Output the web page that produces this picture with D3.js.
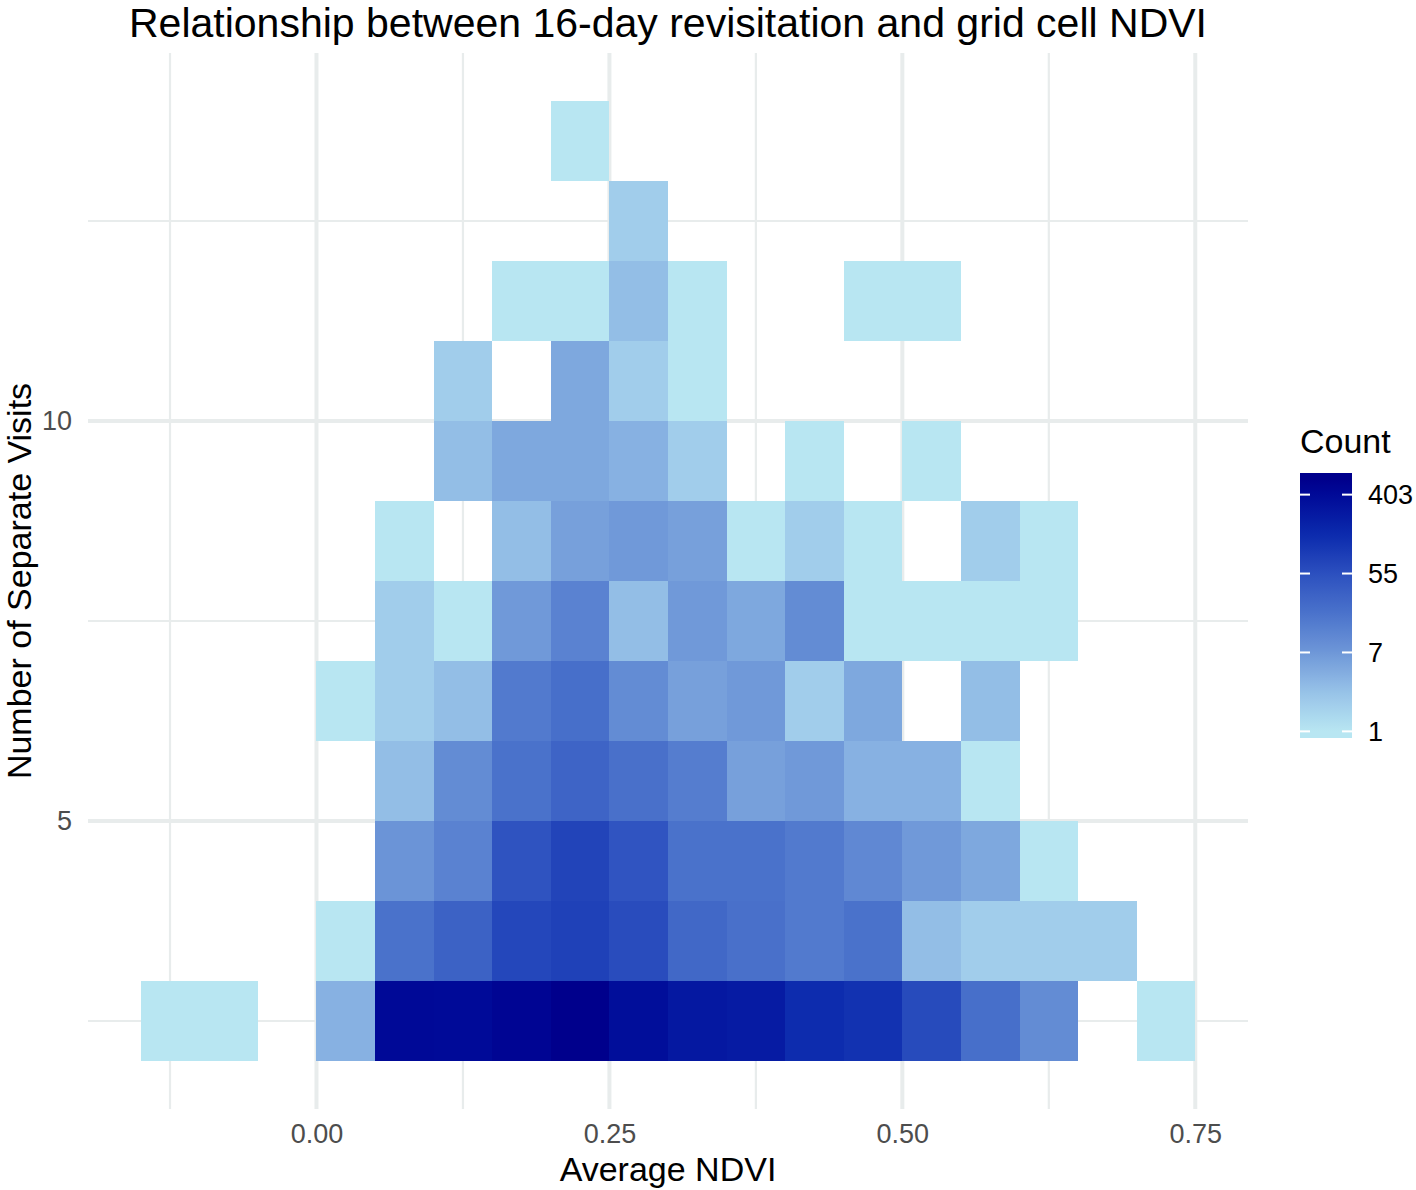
<!DOCTYPE html>
<html>
<head>
<meta charset="utf-8">
<script src="https://cdn.jsdelivr.net/npm/d3@7"></script>
<style>
  body { margin: 0; background: #fff; }
  text { font-family: "Liberation Sans", Arial, Helvetica, sans-serif; }
</style>
</head>
<body>
<div id="chart"></div>
<script>
// lower edges of the NDVI bins, bin width 0.05
const ndviBins = [-0.15,-0.10,-0.05,0.00,0.05,0.10,0.15,0.20,0.25,0.30,0.35,0.40,0.45,0.50,0.55,0.60,0.65,0.70];
const ndviWidth = 0.05;
// lower edges of the visit bins, bin width 1
const visitBins = [2,3,4,5,6,7,8,9,10,11,12,13];
const visitWidth = 1;

// counts, one row per visit bin, one value per NDVI bin (0 = no cell)
const visits2  = [1,1,0,4,420,400,480,590,360,260,240,140,120,63,22,10,0,1];
const visits3  = [0,0,0,1,20,32,70,80,60,27,21,16,20,3,2,2,2,0];
const visits4  = [0,0,0,0,8,13,50,75,48,20,20,16,11,7,5,1,0,0];
const visits5  = [0,0,0,0,3,10,20,30,21,15,6,7,4,4,1,0,0,0];
const visits6  = [0,0,0,1,2,3,16,22,10,6,7,2,5,0,3,0,0,0];
const visits7  = [0,0,0,0,2,1,7,13,3,7,5,10,1,1,1,1,0,0];
const visits8  = [0,0,0,0,1,0,3,6,7,6,1,2,1,0,2,1,0,0];
const visits9  = [0,0,0,0,0,3,5,5,4,2,0,1,0,1,0,0,0,0];
const visits10 = [0,0,0,0,0,2,0,5,2,1,0,0,0,0,0,0,0,0];
const visits11 = [0,0,0,0,0,0,1,1,3,1,0,0,1,1,0,0,0,0];
const visits12 = [0,0,0,0,0,0,0,0,2,0,0,0,0,0,0,0,0,0];
const visits13 = [0,0,0,0,0,0,0,1,0,0,0,0,0,0,0,0,0,0];

const xMajor = [0, 0.25, 0.50, 0.75];
const xMinor = [-0.125, 0.125, 0.375, 0.625];
const yMajor = [5, 10];
const yMinor = [2.5, 7.5, 12.5];
const legendBreaks = [1, 7.389, 54.6, 403.4];

// fill ramp, sampled along log(count) = 0,1,...,6 and the maximum
const palette = ["#b8e6f2","#97c2e8","#6e97d8","#4a72cb","#2c50bf","#0b2aad","#000a98","#00008c"];

const W = 1416, H = 1190;
const panel = { left: 88, right: 1248, top: 53, bottom: 1109 };
const gridColor = "#e8ecec";

function expand(lo, hi, m = 0.05) {
  let d = (hi - lo) * m;
  return [lo - d, hi + d];
}

const svg = d3.select("#chart").append("svg")
  .attr("width", W).attr("height", H);

const rows = [visits2,visits3,visits4,visits5,visits6,visits7,visits8,visits9,visits10,visits11,visits12,visits13];
const cells = [];
rows.forEach((r, j) => r.forEach((c, i) => {
  if (c > 0) cells.push({ x: ndviBins[i], y: visitBins[j], n: c });
}));

const x = d3.scaleLinear()
  .domain(expand(ndviBins[0], ndviBins[ndviBins.length-1] + ndviWidth))
  .range([panel.left, panel.right]);
const y = d3.scaleLinear()
  .domain(expand(visitBins[0], visitBins[visitBins.length-1] + visitWidth))
  .range([panel.bottom, panel.top]);

const maxN = d3.max(cells, d => d.n);
const ramp = d3.scaleLinear()
  .domain(d3.range(7).concat([Math.log(maxN)]))
  .range(palette).clamp(true);
const color = n => ramp(Math.log(n));

// grid
const grid = svg.append("g").attr("class", "grid").attr("stroke", gridColor);
[[xMinor, 2.2], [xMajor, 4]].forEach(([v, w]) => {
  grid.selectAll(null).data(v).enter().append("line")
    .attr("x1", d => x(d)).attr("x2", d => x(d))
    .attr("y1", panel.top).attr("y2", panel.bottom)
    .attr("stroke-width", w);
});
[[yMinor, 2.2], [yMajor, 4]].forEach(([v, w]) => {
  grid.selectAll(null).data(v).enter().append("line")
    .attr("y1", d => y(d)).attr("y2", d => y(d))
    .attr("x1", panel.left).attr("x2", panel.right)
    .attr("stroke-width", w);
});

// tiles
svg.append("g").attr("class", "tiles")
  .selectAll("rect").data(cells).enter().append("rect")
  .attr("x", d => x(d.x))
  .attr("y", d => y(d.y + visitWidth))
  .attr("width", d => x(d.x + ndviWidth) - x(d.x))
  .attr("height", d => y(d.y) - y(d.y + visitWidth))
  .attr("fill", d => color(d.n))
  .attr("shape-rendering", "crispEdges");

// axes
const xAxis = svg.append("g")
  .attr("transform", "translate(0," + panel.bottom + ")")
  .call(d3.axisBottom(x).tickValues(xMajor).tickSize(0).tickPadding(15).tickFormat(d3.format(".2f")));
const yAxis = svg.append("g")
  .attr("transform", "translate(" + panel.left + ",0)")
  .call(d3.axisLeft(y).tickValues(yMajor).tickSize(0).tickPadding(16).tickFormat(d3.format("d")));
[xAxis, yAxis].forEach(a => {
  a.select(".domain").remove();
  a.selectAll("text").attr("font-size", 27).attr("fill", "#4d4d4d")
    .attr("font-family", null);
});

// titles
svg.append("text")
  .attr("x", (panel.left + panel.right) / 2).attr("y", 37)
  .attr("text-anchor", "middle").attr("font-size", 41).attr("fill", "#000")
  .text("Relationship between 16-day revisitation and grid cell NDVI");
svg.append("text")
  .attr("x", (panel.left + panel.right) / 2).attr("y", 1181)
  .attr("text-anchor", "middle").attr("font-size", 34).attr("fill", "#000")
  .text("Average NDVI");
svg.append("text")
  .attr("transform", "translate(31," + (panel.top + panel.bottom) / 2 + ") rotate(-90)")
  .attr("text-anchor", "middle").attr("font-size", 34).attr("fill", "#000")
  .text("Number of Separate Visits");

// legend
const bar = { x: 1300, y: 473, w: 52, h: 265 };
const inset = bar.h / 40;   // half a bin of a 20-bin colourbar
const ly = d3.scaleLog().domain([1, maxN])
  .range([bar.y + bar.h - inset, bar.y + inset]);

const grad = svg.append("defs").append("linearGradient")
  .attr("id", "countGrad").attr("x1", 0).attr("x2", 0).attr("y1", 1).attr("y2", 0);
grad.append("stop").attr("offset", 0).attr("stop-color", color(1));
d3.range(0, 41).forEach(i => {
  let v = Math.exp(Math.log(maxN) * i / 40);
  grad.append("stop")
    .attr("offset", (bar.y + bar.h - ly(v)) / bar.h)
    .attr("stop-color", color(v));
});
grad.append("stop").attr("offset", 1).attr("stop-color", color(maxN));

const legend = svg.append("g").attr("class", "legend");
legend.append("text")
  .attr("x", bar.x).attr("y", 453)
  .attr("font-size", 34).attr("fill", "#000")
  .text("Count");
legend.append("rect")
  .attr("x", bar.x).attr("y", bar.y).attr("width", bar.w).attr("height", bar.h)
  .attr("fill", "url(#countGrad)");
legendBreaks.forEach(b => {
  let yy = ly(b);
  [[bar.x, bar.x + 10], [bar.x + bar.w - 10, bar.x + bar.w]].forEach(([a, c]) => {
    legend.append("line")
      .attr("x1", a).attr("x2", c).attr("y1", yy).attr("y2", yy)
      .attr("stroke", "#fff").attr("stroke-width", 2);
  });
  legend.append("text")
    .attr("x", bar.x + 68).attr("y", yy).attr("dy", "0.35em")
    .attr("font-size", 27).attr("fill", "#000")
    .text(d3.format(".0f")(b));
});
</script>
</body>
</html>
